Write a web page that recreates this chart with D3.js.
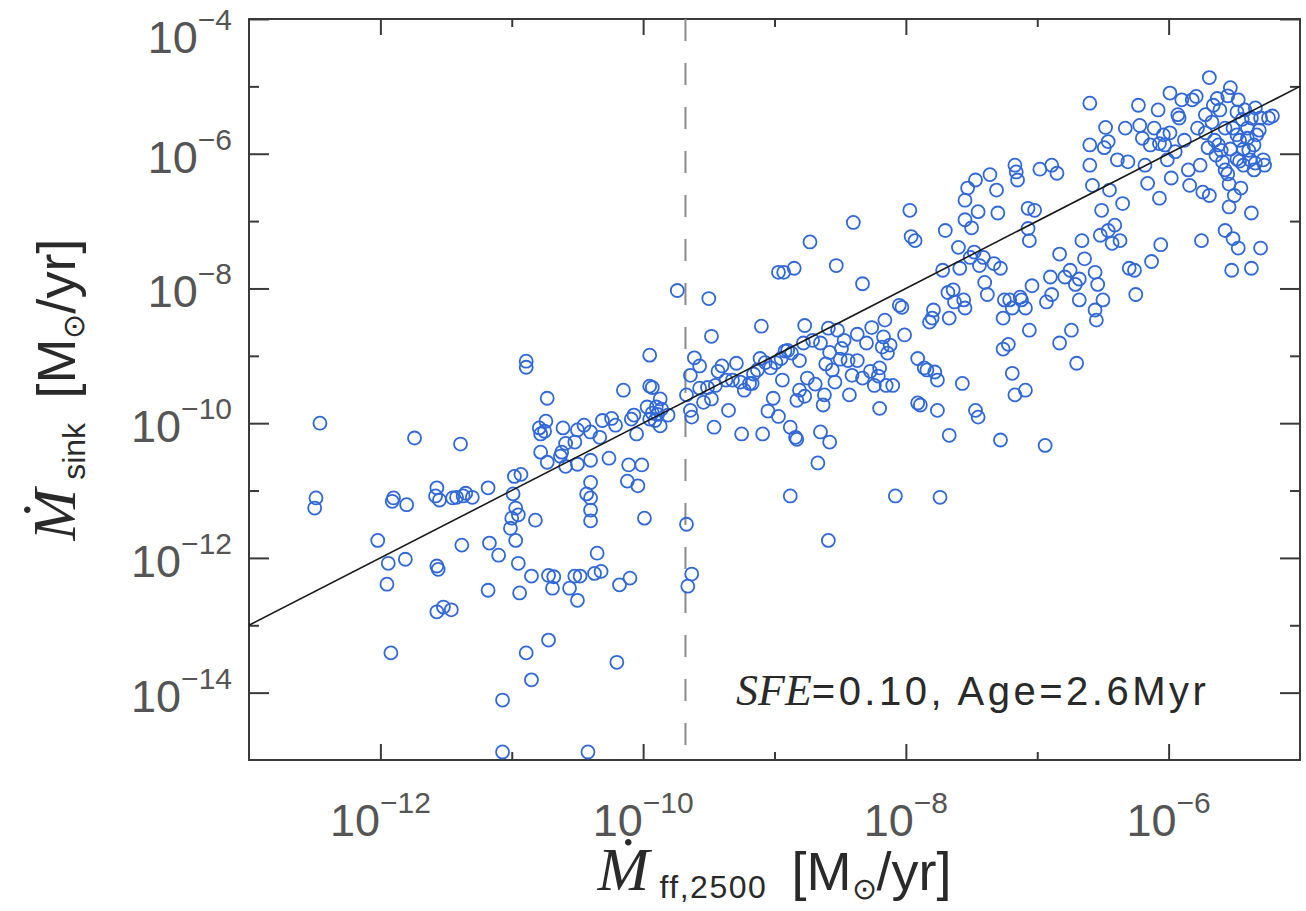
<!DOCTYPE html>
<html>
<head>
<meta charset="utf-8">
<script src="https://cdn.jsdelivr.net/npm/d3@7"></script>
<style>
  body { margin: 0; background: #fff; }
  svg { display: block; }
</style>
</head>
<body>
<div id="graph"></div>
<script>
// log10 of the free-fall accretion rate (x) and sink accretion rate (y)
const logMff = [
  -12.46,-12.49,-12.50,-12.02,-11.94,-11.95,-11.92,-11.81,-11.74,-11.90,-11.91,-11.80,-11.57,-11.55,-11.58,-11.57,
  -11.56,-11.57,-11.52,-11.46,-11.39,-11.38,-11.45,-11.42,-11.35,-11.37,-11.30,-11.18,-11.17,-11.10,-11.18,-11.07,
  -11.01,-11.00,-10.99,-10.97,-10.98,-10.93,-10.95,-10.97,-10.95,-10.94,-10.89,-10.89,-10.89,-10.85,-10.85,-10.82,
  -10.78,-10.75,-10.74,-10.73,-10.78,-10.73,-10.79,-10.72,-10.72,-10.68,-10.69,-10.62,-10.63,-10.61,-10.59,-10.59,
  -10.56,-10.52,-10.48,-10.50,-10.50,-10.52,-10.50,-10.45,-10.43,-10.40,-10.40,-10.40,-10.40,-10.40,-10.40,-10.37,
  -10.35,-10.32,-10.31,-10.33,-10.26,-10.24,-10.21,-10.20,-10.18,-10.15,-10.12,-10.11,-10.10,-10.09,-10.07,-10.05,
  -10.01,-10.04,-9.99,-9.97,-9.95,-9.95,-9.95,-9.93,-9.93,-9.90,-9.91,-9.89,-9.87,-9.87,-9.86,-9.81,
  -9.74,-9.67,-9.64,-9.64,-9.63,-9.67,-9.66,-9.61,-9.63,-9.57,-9.57,-9.54,-9.51,-9.50,-9.48,-9.46,
  -9.45,-9.48,-9.43,-9.40,-9.37,-9.35,-9.32,-9.29,-9.26,-9.25,-9.23,-9.19,-9.17,-9.16,-9.13,-9.11,
  -9.10,-9.09,-9.07,-9.05,-9.03,-9.01,-8.99,-8.97,-8.93,-8.97,-8.95,-8.94,-8.92,-8.90,-8.88,-8.88,
  -8.87,-8.85,-8.84,-8.83,-8.83,-8.81,-8.81,-8.78,-8.77,-8.77,-8.75,-8.73,-8.71,-8.69,-8.67,-8.65,
  -8.65,-8.63,-8.62,-8.61,-8.59,-8.58,-8.58,-8.56,-8.54,-8.53,-8.52,-8.50,-8.49,-8.47,-8.44,-8.43,
  -8.41,-8.40,-8.37,-8.37,-8.33,-8.30,-8.26,-8.24,-8.21,-8.20,-8.18,-8.17,-8.16,-8.14,-8.12,-8.10,
  -8.08,-8.05,-8.03,-8.01,-7.97,-7.96,-7.93,-7.91,-7.89,-7.91,-7.86,-7.84,-7.82,-7.80,-7.79,-7.78,
  -7.76,-7.74,-7.72,-7.70,-7.68,-7.67,-7.64,-7.63,-7.60,-7.59,-7.57,-7.56,-7.55,-7.55,-7.55,-7.53,
  -7.51,-7.50,-7.48,-7.47,-7.45,-7.44,-7.41,-7.40,-7.38,-7.36,-7.33,-7.31,-7.30,-7.28,-7.26,-7.25,
  -7.22,-7.21,-7.19,-7.19,-7.17,-7.16,-7.15,-7.13,-7.12,-7.09,-7.09,-7.07,-7.07,-7.06,-7.04,-7.02,
  -6.98,-6.94,-6.93,-6.90,-6.89,-6.89,-6.85,-6.83,-6.83,-6.79,-6.75,-6.74,-6.71,-6.70,-6.68,-6.66,
  -6.64,-6.60,-6.60,-6.60,-6.58,-6.56,-6.55,-6.54,-6.52,-6.51,-6.50,-6.49,-6.48,-6.46,-6.46,-6.45,
  -6.43,-6.41,-6.39,-6.37,-6.35,-6.33,-6.31,-6.30,-6.26,-6.25,-6.23,-6.22,-6.20,-6.18,-6.16,-6.14,
  -6.13,-6.11,-6.08,-6.07,-6.07,-6.06,-6.04,-6.03,-6.01,-5.99,-5.99,-5.98,-5.95,-5.93,-5.92,-5.90,
  -5.88,-5.85,-5.84,-5.82,-5.79,-5.78,-5.76,-5.75,-5.74,-5.72,-5.72,-5.70,-5.69,-5.69,-5.67,-5.66,
  -5.65,-5.64,-5.63,-5.62,-5.61,-5.60,-5.59,-5.57,-5.57,-5.57,-5.55,-5.55,-5.54,-5.54,-5.53,-5.53,
  -5.52,-5.51,-5.51,-5.50,-5.48,-5.48,-5.48,-5.47,-5.47,-5.46,-5.46,-5.45,-5.44,-5.43,-5.43,-5.42,
  -5.40,-5.40,-5.39,-5.38,-5.37,-5.37,-5.35,-5.35,-5.34,-5.34,-5.33,-5.31,-5.30,-5.28,-5.27,-5.24,
  -5.21,-8.33,-8.27,-8.20,-8.15,-7.76,-7.67,-7.47,-7.45,-7.28,-7.26,-7.17,-7.06,-6.68,-6.56,-8.59,
  -11.07,-10.42,-5.37,-5.30
];
const logMsink = [
  -10.00,-11.11,-11.26,-11.74,-12.08,-12.39,-13.41,-12.02,-10.22,-11.11,-11.16,-11.21,-10.96,-11.14,-11.08,-12.12,
  -12.17,-12.80,-12.73,-12.77,-10.31,-11.81,-11.11,-11.10,-11.04,-11.08,-11.10,-10.96,-11.78,-11.96,-12.48,-14.11,
  -11.56,-11.41,-11.05,-11.26,-10.79,-10.76,-11.36,-11.74,-12.08,-12.52,-9.08,-9.17,-13.41,-13.81,-12.27,-11.44,
  -10.16,-10.12,-9.97,-9.63,-10.43,-10.58,-10.07,-13.22,-12.26,-12.28,-12.45,-10.43,-10.49,-10.07,-10.64,-10.30,
  -12.45,-12.27,-12.27,-12.63,-10.61,-10.28,-10.10,-10.03,-11.05,-11.11,-10.13,-10.55,-10.88,-11.29,-11.45,-12.23,
  -11.93,-12.20,-9.96,-10.21,-10.52,-9.93,-10.03,-13.55,-12.40,-9.51,-10.86,-10.62,-12.30,-9.94,-9.88,-10.16,
  -10.62,-10.93,-11.41,-9.76,-9.94,-9.45,-8.99,-9.47,-9.85,-9.76,-9.96,-9.87,-9.64,-10.04,-9.79,-9.88,
  -8.03,-9.58,-9.29,-9.81,-12.24,-11.50,-12.42,-9.03,-9.91,-9.15,-9.48,-9.69,-9.47,-8.15,-8.71,-10.06,
  -9.44,-9.64,-9.23,-9.15,-9.36,-9.81,-9.36,-9.11,-9.39,-10.16,-9.51,-9.41,-9.41,-9.27,-9.21,-9.04,
  -8.56,-10.16,-9.10,-9.82,-9.18,-9.63,-9.10,-7.76,-7.76,-9.90,-9.04,-9.36,-8.93,-8.92,-10.06,-11.08,
  -8.96,-7.70,-10.21,-10.24,-9.66,-9.07,-9.51,-8.81,-8.55,-9.60,-9.33,-7.31,-8.77,-9.42,-10.59,-10.13,
  -8.81,-9.73,-9.58,-9.12,-8.59,-8.95,-10.28,-9.21,-9.39,-7.66,-8.62,-9.05,-8.89,-8.77,-9.07,-9.58,
  -9.29,-7.02,-9.07,-8.68,-7.93,-8.81,-8.58,-9.44,-9.30,-9.18,-8.87,-8.72,-8.47,-8.96,-8.84,-9.44,
  -11.08,-8.25,-8.28,-8.69,-6.84,-7.23,-7.29,-9.70,-9.73,-9.04,-9.18,-9.21,-8.50,-8.44,-8.32,-9.24,
  -9.36,-11.10,-7.73,-7.14,-8.06,-8.44,-8.02,-8.20,-7.39,-7.70,-9.41,-8.17,-8.29,-6.98,-6.69,-6.51,
  -7.54,-7.10,-7.46,-6.39,-6.86,-7.66,-7.54,-7.91,-8.09,-6.31,-7.63,-6.54,-6.88,-7.70,-8.44,-8.17,
  -8.83,-8.17,-8.29,-9.26,-6.17,-6.27,-6.39,-8.13,-8.17,-8.29,-9.51,-6.81,-7.11,-7.29,-7.96,-6.84,
  -6.23,-10.33,-8.20,-7.83,-6.17,-8.09,-6.29,-7.49,-8.81,-7.83,-7.73,-8.62,-7.94,-9.11,-7.86,-7.29,
  -7.56,-5.25,-5.87,-6.17,-6.47,-7.76,-8.47,-7.94,-7.21,-6.84,-8.17,-5.91,-5.61,-5.82,-7.14,-6.54,
  -7.33,-7.06,-6.09,-7.29,-6.74,-5.62,-6.12,-7.70,-7.73,-8.09,-5.28,-5.58,-5.77,-6.17,-6.44,-5.87,
  -7.60,-5.62,-5.35,-5.85,-6.66,-7.35,-5.72,-5.87,-6.09,-5.10,-5.69,-6.36,-5.97,-5.42,-5.47,-5.20,
  -5.80,-6.24,-6.47,-5.20,-5.15,-5.62,-6.17,-7.29,-6.57,-5.69,-5.42,-5.91,-6.62,-4.87,-5.53,-5.28,
  -5.80,-6.02,-5.18,-5.87,-5.35,-5.95,-6.12,-5.62,-6.24,-7.14,-5.14,-6.30,-6.45,-6.79,-5.93,-5.02,
  -7.73,-5.62,-7.26,-6.62,-6.08,-5.38,-5.72,-5.20,-7.40,-5.80,-6.11,-6.51,-5.49,-5.93,-6.17,-5.35,
  -5.62,-5.77,-5.95,-6.09,-6.88,-5.47,-5.87,-6.24,-5.32,-6.14,-5.72,-5.65,-5.47,-6.09,-6.17,-5.47,
  -5.44,-9.33,-9.23,-9.78,-9.44,-9.81,-10.18,-9.81,-9.91,-10.25,-8.90,-9.58,-8.62,-8.17,-8.32,-11.74,
  -14.88,-14.88,-7.70,-7.40
];

// one-to-one line and the threshold marker
const fitX = [1e-13, 1e-5];
const fitY = [1e-13, 1e-5];
const thresholdX = 2.1e-10;

// axis ranges and ticks
const xDomain = [1e-13, 1e-5];
const yDomain = [1e-15, 1e-4];
const xMajor = [-12, -10, -8, -6];
const xMinor = [-11, -9, -7];
const yMajor = [-14, -12, -10, -8, -6, -4];
const yMinor = [-13, -11, -9, -7, -5];

const W = 1306, H = 911;
const margin = { top: 19, right: 6, bottom: 151, left: 249 };
const width = W - margin.left - margin.right,
      height = H - margin.top - margin.bottom;

const svg = d3.select("#graph").append("svg")
  .attr("width", W)
  .attr("height", H);

const g = svg.append("g")
  .attr("transform", "translate(" + margin.left + "," + margin.top + ")");

const x = d3.scaleLog().domain(xDomain).range([0, width]);
const y = d3.scaleLog().domain(yDomain).range([height, 0]);

const axisColor = "#3a3a3a";
const labelColor = "#555";
const sans = "'Liberation Sans', Arial, Helvetica, sans-serif";
const serif = "'Liberation Serif', 'DejaVu Serif', 'Times New Roman', serif";

// ticks on all four sides, pointing inward
function tickAxis(axisFn, scale, values, size, transform) {
  const a = g.append("g")
    .attr("transform", transform)
    .call(axisFn(scale).tickValues(values.map(v => Math.pow(10, v))).tickSize(size).tickFormat(""));
  a.select(".domain").remove();
  a.selectAll("line").attr("stroke", axisColor).attr("stroke-width", 2);
}
tickAxis(d3.axisBottom, x, xMajor, -16, "translate(0," + height + ")");
tickAxis(d3.axisBottom, x, xMinor, -8, "translate(0," + height + ")");
tickAxis(d3.axisTop, x, xMajor, -16, "translate(0,0)");
tickAxis(d3.axisTop, x, xMinor, -8, "translate(0,0)");
tickAxis(d3.axisLeft, y, yMajor, -20, "translate(0,0)");
tickAxis(d3.axisLeft, y, yMinor, -10, "translate(0,0)");
tickAxis(d3.axisRight, y, yMajor, -20, "translate(" + width + ",0)");
tickAxis(d3.axisRight, y, yMinor, -10, "translate(" + width + ",0)");

// frame
g.append("rect")
  .attr("width", width)
  .attr("height", height)
  .attr("fill", "none")
  .attr("stroke", axisColor)
  .attr("stroke-width", 2);

// dashed threshold
g.append("line")
  .attr("x1", x(thresholdX)).attr("x2", x(thresholdX))
  .attr("y1", 0).attr("y2", height)
  .attr("stroke", "#8a8a8a")
  .attr("stroke-width", 2)
  .attr("stroke-dasharray", "22,22");

// points
const pts = logMff.map((v, i) => ({ mff: Math.pow(10, v), msink: Math.pow(10, logMsink[i]) }));
g.append("g").selectAll("circle")
  .data(pts)
  .enter().append("circle")
  .attr("cx", d => x(d.mff))
  .attr("cy", d => y(d.msink))
  .attr("r", 6.5)
  .attr("fill", "none")
  .attr("stroke", "#3068d8")
  .attr("stroke-width", 1.8);

// one-to-one line
g.append("line")
  .attr("x1", x(fitX[0])).attr("y1", y(fitY[0]))
  .attr("x2", x(fitX[1])).attr("y2", y(fitY[1]))
  .attr("stroke", "#1a1a1a")
  .attr("stroke-width", 1.6);

// tick labels 10^n
function powLabel(sel, n) {
  sel.append("tspan").text("10");
  sel.append("tspan").attr("font-size", 30).attr("dy", -23).text("\u2212" + Math.abs(n));
}
xMajor.forEach(n => {
  g.append("text")
    .attr("x", x(Math.pow(10, n)))
    .attr("y", height + 76)
    .attr("text-anchor", "middle")
    .attr("font-family", sans)
    .attr("font-size", 45)
    .attr("fill", labelColor)
    .call(powLabel, n);
});
yMajor.forEach(n => {
  // the top label sits lower so it stays inside the page
  const ty = Math.max(y(Math.pow(10, n)) + 19, 34);
  g.append("text")
    .attr("x", -17)
    .attr("y", ty)
    .attr("text-anchor", "end")
    .attr("font-family", sans)
    .attr("font-size", 45)
    .attr("fill", labelColor)
    .call(powLabel, n);
});

// axis titles
function unitLabel(t) {
  t.append("tspan").attr("font-family", sans).attr("font-size", 54).text("\u2009[M");
  t.append("tspan").attr("font-family", sans).attr("font-size", 30).attr("dy", 9).text("\u2299");
  t.append("tspan").attr("font-family", sans).attr("font-size", 54).attr("dy", -9).text("/yr]");
}

const xt = svg.append("text")
  .attr("x", margin.left + width / 2)
  .attr("y", 890)
  .attr("text-anchor", "middle")
  .attr("fill", "#2a2a2a");
xt.append("tspan").attr("font-family", serif).attr("font-style", "italic").attr("font-size", 62).text("\u1E40");
xt.append("tspan").attr("font-family", sans).attr("font-size", 32).attr("dy", 8).attr("letter-spacing", 1.5).text(" ff,2500");
xt.append("tspan").attr("dy", -8).attr("font-size", 54).text(" ");
unitLabel(xt);

const yt = svg.append("text")
  .attr("transform", "translate(75," + (margin.top + height / 2) + ") rotate(-90)")
  .attr("text-anchor", "middle")
  .attr("fill", "#2a2a2a");
yt.append("tspan").attr("font-family", serif).attr("font-style", "italic").attr("font-size", 62).text("\u1E40");
yt.append("tspan").attr("font-family", sans).attr("font-size", 32).attr("dy", 10).text(" sink");
yt.append("tspan").attr("dy", -10).attr("font-size", 54).text(" ");
unitLabel(yt);

// annotation
const note = g.append("text")
  .attr("x", 736 - margin.left)
  .attr("y", 705 - margin.top)
  .attr("fill", "#2a2a2a")
  .attr("font-size", 44);
note.append("tspan").attr("font-family", serif).attr("font-style", "italic").text("SFE");
note.append("tspan").attr("font-family", sans).attr("font-size", 40).attr("letter-spacing", 3.5).text("=0.10,  Age=2.6Myr");
</script>
</body>
</html>
